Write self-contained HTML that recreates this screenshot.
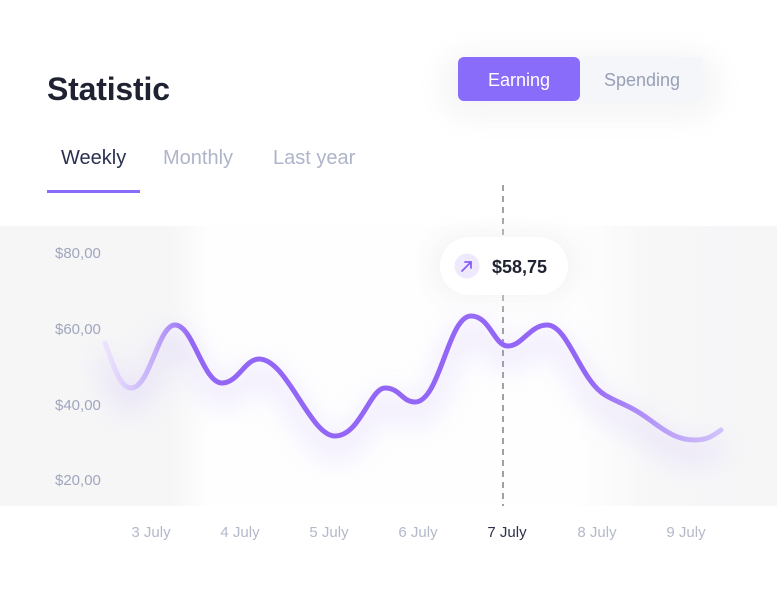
<!DOCTYPE html>
<html><head><meta charset="utf-8"><style>
html,body{margin:0;padding:0;background:#fff;width:777px;height:592px;overflow:hidden}
svg{display:block}
text{font-family:"Liberation Sans",sans-serif}
</style></head><body>
<svg width="777" height="592" viewBox="0 0 777 592" xmlns="http://www.w3.org/2000/svg">
<defs>
<linearGradient id="bg" x1="0" x2="1" y1="0" y2="0">
<stop offset="0" stop-color="#f6f6f7"/><stop offset="0.22" stop-color="#f6f6f7"/>
<stop offset="0.27" stop-color="#fefefe"/><stop offset="0.74" stop-color="#fefefe"/>
<stop offset="0.84" stop-color="#f7f7f8"/><stop offset="1" stop-color="#f6f6f7"/>
</linearGradient>
<linearGradient id="ln" x1="105" x2="721" y1="0" y2="0" gradientUnits="userSpaceOnUse">
<stop offset="0" stop-color="#ece4fd"/><stop offset="0.08" stop-color="#c4acf9"/>
<stop offset="0.14" stop-color="#9466f6"/><stop offset="0.78" stop-color="#9466f6"/>
<stop offset="0.9" stop-color="#b89cf8"/><stop offset="1" stop-color="#d2c2fa"/>
</linearGradient>
<filter id="blur" x="-20%" y="-50%" width="140%" height="200%"><feGaussianBlur stdDeviation="14"/></filter>
<filter id="sh" x="-30%" y="-80%" width="160%" height="260%"><feGaussianBlur stdDeviation="12"/></filter>
</defs>
<rect x="0" y="226" width="777" height="280" fill="url(#bg)"/>
<rect x="440" y="50" width="280" height="70" rx="30" fill="#f0f0f3" filter="url(#sh)" opacity="0.6"/>
<rect x="458" y="57" width="245" height="44" rx="7" fill="#f5f6fa"/>
<rect x="458" y="57" width="122" height="44" rx="6" fill="#8a6cfb"/>
<text x="519" y="86" font-size="18" fill="#fff" text-anchor="middle">Earning</text>
<text x="642" y="86" font-size="18" fill="#98a0b6" text-anchor="middle">Spending</text>
<text x="47" y="100" font-size="32" font-weight="bold" fill="#1f2230" textLength="123">Statistic</text>
<text x="61" y="164" font-size="20" fill="#2a3150">Weekly</text>
<text x="163" y="164" font-size="20" fill="#aeb4c9">Monthly</text>
<text x="273" y="164" font-size="20" fill="#aeb4c9">Last year</text>
<rect x="47" y="190" width="93" height="3" fill="#8a6cfb"/>
<g font-size="15" fill="#a0a6bd">
<text x="55" y="258">$80,00</text><text x="55" y="334">$60,00</text>
<text x="55" y="410">$40,00</text><text x="55" y="485">$20,00</text>
</g>
<line x1="503" y1="185" x2="503" y2="506" stroke="#6e6e78" stroke-width="1.3" stroke-dasharray="6,5"/>
<path d="M105,343 C113,365 120,388 131,388 C150,388 158,325 175,325 C193,325 203,383 222,383 C238,383 245,359 259,359 C287,359 310,436 335,436 C360,436 370,388 385,388 C400,388 402,402 415,402 C440,402 448,316 471,316 C490,316 494,346 508,346 C522,346 530,325 547,325 C568,325 580,380 605,395 C620,404 630,405 650,420 C670,435 680,440 695,440 C708,440 714,435 721,430" fill="none" stroke="#a88bf8" stroke-width="14" opacity="0.25" filter="url(#blur)" transform="translate(0,14)"/>
<path d="M105,343 C113,365 120,388 131,388 C150,388 158,325 175,325 C193,325 203,383 222,383 C238,383 245,359 259,359 C287,359 310,436 335,436 C360,436 370,388 385,388 C400,388 402,402 415,402 C440,402 448,316 471,316 C490,316 494,346 508,346 C522,346 530,325 547,325 C568,325 580,380 605,395 C620,404 630,405 650,420 C670,435 680,440 695,440 C708,440 714,435 721,430" fill="none" stroke="url(#ln)" stroke-width="5" stroke-linecap="round"/>
<rect x="430" y="232" width="148" height="68" rx="30" fill="#ececf0" filter="url(#sh)" opacity="0.5"/>
<rect x="440" y="237" width="128" height="58" rx="29" fill="#fff"/>
<circle cx="467" cy="266" r="12.5" fill="#efe9fd"/>
<path d="M462,271 L471,262 M465,262 L471,262 L471,268" stroke="#8a5cf6" stroke-width="1.8" fill="none" stroke-linecap="round"/>
<text x="492" y="273" font-size="18" font-weight="bold" fill="#1f2230">$58,75</text>
<g font-size="15" fill="#b4b9c9" text-anchor="middle">
<text x="151" y="537">3 July</text><text x="240" y="537">4 July</text>
<text x="329" y="537">5 July</text><text x="418" y="537">6 July</text>
<text x="507" y="537" fill="#2a3150">7 July</text><text x="597" y="537">8 July</text>
<text x="686" y="537">9 July</text>
</g>
</svg>
</body></html>
